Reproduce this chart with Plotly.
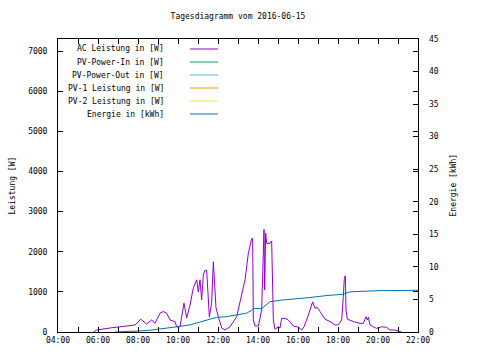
import plotly.graph_objects as go

DAY = "2016-06-15 "

title_text = "Tagesdiagramm vom 2016-06-15"
series_names = ["AC Leistung in [W]", "PV-Power-In in [W]", "PV-Power-Out in [W]",
                "PV-1 Leistung in [W]", "PV-2 Leistung in [W]", "Energie in [kWh]"]
series_colors = ["#9400d3", "#009e73", "#56b4e9", "#e69f00", "#f0e442", "#0072b2"]

ac_times = ["05:46", "05:56", "06:36", "06:56", "07:26", "07:51", "08:08", "08:26", "08:41", "08:51",
            "09:06", "09:16", "09:26", "09:36", "09:51", "09:56", "10:06", "10:11", "10:18", "10:26",
            "10:36", "10:46", "10:56", "11:01", "11:06", "11:11", "11:16", "11:21", "11:26", "11:34",
            "11:41", "11:46", "11:49", "11:54", "12:01", "12:11", "12:21", "12:36", "12:56", "13:08",
            "13:21", "13:31", "13:36", "13:41", "13:44", "13:46", "13:51", "14:01", "14:11", "14:16",
            "14:18", "14:20", "14:23", "14:26", "14:36", "14:41", "14:43", "14:46", "14:51", "15:01",
            "15:06", "15:11", "15:21", "15:31", "15:46", "16:01", "16:11", "16:18", "16:31", "16:44",
            "16:51", "16:58", "17:06", "17:21", "17:36", "17:51", "18:01", "18:11", "18:16", "18:19",
            "18:22", "18:24", "18:28", "18:46", "19:06", "19:16", "19:24", "19:28", "19:31", "19:36",
            "19:46", "19:56", "20:11", "20:26", "20:36", "20:51", "21:06", "21:11"]
ac_power = [0, 50, 100, 115, 150, 175, 320, 200, 300, 220,
            470, 510, 470, 300, 260, 130, 130, 380, 720, 350,
            670, 1100, 1300, 1000, 1300, 800, 1420, 1540, 1540, 380,
            720, 1750, 1300, 600, 380, 100, 50, 130, 380, 800,
            1300, 1960, 2120, 2330, 2330, 300, 150, 150, 550, 1710,
            2560, 1050, 2460, 2210, 2210, 2270, 1300, 300, 70, 130,
            100, 340, 340, 300, 150, 120, 50, 130, 420, 750,
            590, 610, 510, 320, 260, 175, 175, 300, 880, 1340,
            1400, 550, 320, 260, 215, 215, 380, 300, 370, 175,
            130, 90, 130, 115, 50, 50, 10, 0]

pv_in, pv_out, pv1, pv2 = [], [], [], []

energy_times = ["06:51", "07:30", "08:01", "08:41", "09:20", "09:56", "10:36", "11:16", "11:56", "12:26",
                "12:56", "13:26", "13:40", "13:46", "14:11", "14:20", "14:36", "15:11", "15:56", "16:36",
                "17:26", "18:16", "18:30", "18:46", "20:06", "21:10", "22:00"]
energy_kwh = [0, 0.05, 0.15, 0.3, 0.5, 0.8, 1.1, 1.7, 2.25, 2.35,
              2.6, 2.9, 3.3, 3.6, 3.6, 4.0, 4.65, 4.9, 5.07, 5.3,
              5.6, 5.8, 6.1, 6.2, 6.35, 6.4, 6.4]

FONT = "DejaVu Sans Mono"

fig = go.Figure()
fig.add_trace(go.Scatter(x=[DAY + t for t in ac_times], y=ac_power, mode="lines",
                         line=dict(color=series_colors[0], width=1), name=series_names[0]))
for vals, nm, col in zip([pv_in, pv_out, pv1, pv2], series_names[1:5], series_colors[1:5]):
    fig.add_trace(go.Scatter(x=[], y=vals, mode="lines", line=dict(color=col, width=1), name=nm))
fig.add_trace(go.Scatter(x=[DAY + t for t in energy_times], y=energy_kwh, mode="lines",
                         line=dict(color=series_colors[5], width=1), name=series_names[5], yaxis="y2"))

annotations = []
shapes = []
for i, (nm, col) in enumerate(zip(series_names, series_colors)):
    ypix = 49 + 13 * i
    yp = 1 - (ypix - 39) / 293
    annotations.append(dict(text=nm, x=(166 - 58) / 360, y=yp, xref="paper", yref="paper",
                            xanchor="right", yanchor="middle", showarrow=False,
                            font=dict(family=FONT, size=8, color="black")))
    shapes.append(dict(type="line", xref="paper", yref="paper",
                       x0=(190 - 58) / 360, x1=(218 - 58) / 360, y0=yp, y1=yp,
                       line=dict(color=col, width=1)))

annotations.append(dict(text="Leistung [W]", x=-46 / 360, y=0.5, xref="paper", yref="paper",
                        textangle=-90, showarrow=False, xanchor="center", yanchor="middle",
                        font=dict(family=FONT, size=8, color="black")))
annotations.append(dict(text="Energie [kWh]", x=1 + 35 / 360, y=0.5, xref="paper", yref="paper",
                        textangle=-90, showarrow=False, xanchor="center", yanchor="middle",
                        font=dict(family=FONT, size=8, color="black")))

fig.update_layout(
    width=480, height=360,
    margin=dict(l=58, r=62, t=39, b=28, autoexpand=False),
    paper_bgcolor="white", plot_bgcolor="white",
    showlegend=False,
    font=dict(family=FONT, size=8, color="black"),
    title=dict(text=title_text, x=0.5, xanchor="center", xref="paper",
               y=1 - 16 / 360, yref="container", yanchor="middle", automargin=False,
               font=dict(family=FONT, size=8, color="black")),
    xaxis=dict(range=[DAY + "04:00", DAY + "22:00"], type="date", automargin=False,
               tickformat="%H:%M", dtick=2 * 3600000, tick0=DAY + "04:00",
               ticks="inside", ticklen=5, tickcolor="black",
               showline=True, linecolor="black", linewidth=1, mirror="allticks",
               showgrid=False, zeroline=False,
               minor=dict(dtick=3600000, ticks="inside", ticklen=3, tickcolor="black", showgrid=False)),
    yaxis=dict(range=[0, 7300], dtick=1000, ticks="inside", ticklen=5, tickcolor="black", automargin=False,
               showline=True, linecolor="black", linewidth=1, mirror="allticks",
               showgrid=False, zeroline=False, ticklabelstandoff=8),
    yaxis2=dict(range=[0, 45], dtick=5, overlaying="y", side="right", automargin=False,
                ticks="inside", ticklen=5, tickcolor="black", showline=False,
                showgrid=False, zeroline=False, ticklabelstandoff=10),
    annotations=annotations,
    shapes=shapes,
)

fig.write_html("out.html", config={"displayModeBar": False},
               post_script="document.body.style.margin='0';")
